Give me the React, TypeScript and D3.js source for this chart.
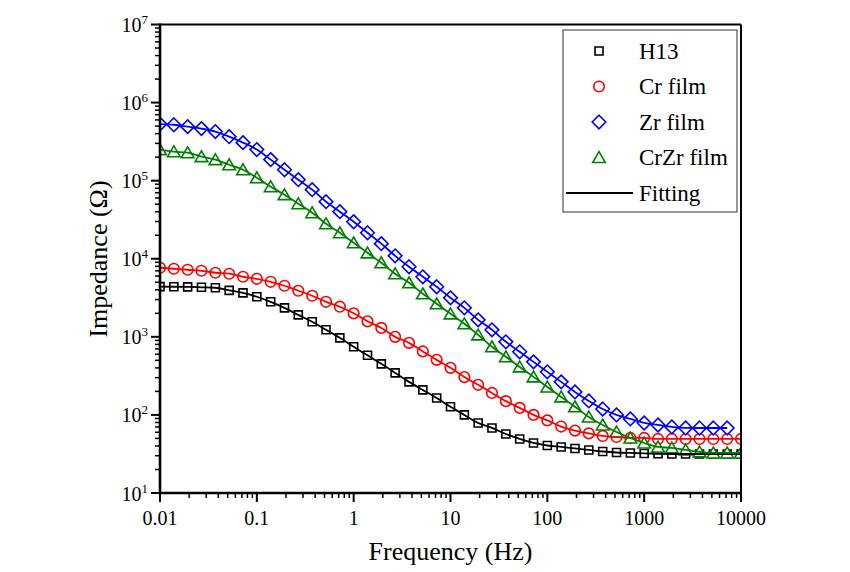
import React from 'react';
import * as d3 from 'd3';

// Frequencies (Hz), 7 points per decade
const frequency = [
  0.01, 0.0139, 0.0193, 0.0268, 0.0373, 0.0518, 0.072,
  0.1, 0.139, 0.193, 0.268, 0.373, 0.518, 0.72,
  1, 1.39, 1.93, 2.68, 3.73, 5.18, 7.2,
  10, 13.9, 19.3, 26.8, 37.3, 51.8, 72,
  100, 139, 193, 268, 373, 518, 720,
  1000, 1390, 1930, 2680, 3730, 5180, 7200,
  10000,
];

const h13 = [
  4400, 4380, 4360, 4310, 4250, 3940, 3660, 3260, 2810, 2350, 1910, 1560, 1230, 971,
  745, 580, 451, 345, 265, 209, 165, 127, 100, 78.9, 68.1, 57.0, 49.2, 43.7,
  40.6, 38.9, 37.2, 35.6, 34.0, 33.0, 32.6, 32.1, 31.8, 31.6, 31.6, 31.6, 31.6, 31.6, 31.6,
];

const crFilm = [
  7670, 7450, 7230, 7020, 6620, 6430, 5880, 5540, 5070, 4510, 3890, 3360, 2810, 2430,
  2000, 1580, 1300, 1000, 837, 650, 507, 401, 305, 243, 191, 150, 123, 100,
  85, 71, 63, 58, 53.8, 52.2, 50.7, 50.7, 49.2, 49.2, 49.2, 49.2, 49.2, 49.2, 49.2,
];

const zrFilm = [
  530000, 520000, 492000, 464000, 425000, 366000, 307000, 250000, 186000, 138000, 103000, 76700, 53800, 40100,
  29800, 21500, 15600, 10900, 7890, 5870, 4380, 3160, 2350, 1650, 1230, 863, 643, 478,
  356, 265, 197, 151, 119, 100, 88.9, 78.9, 74.4, 70.2, 68.1, 68, 68, 68,
];

const crZrFilm = [
  250000, 235000, 228000, 203000, 186000, 160000, 138000, 109000, 83700, 66200, 50700, 38900, 28100, 21500,
  16000, 11900, 8890, 6430, 4920, 3560, 2650, 1970, 1470, 1060, 745, 555, 412, 307,
  228, 170, 127, 94.2, 74.4, 60.5, 50.7, 43.7, 38.9, 37.8, 35.6, 33.6, 32.6, 32.6, 32.6,
];

const seriesNames = ['H13', 'Cr film', 'Zr film', 'CrZr film'];
const fitName = 'Fitting';
const xTickValues = [0.01, 0.1, 1, 10, 100, 1000, 10000];
const xTickLabels = ['0.01', '0.1', '1', '10', '100', '1000', '10000'];
const yTickExponents = [1, 2, 3, 4, 5, 6, 7];
const xTitle = 'Frequency (Hz)';
const yTitle = 'Impedance (Ω)';

const FONT = "'Liberation Serif', 'Times New Roman', Tinos, 'DejaVu Serif', serif";

type Shape = 'square' | 'circle' | 'diamond' | 'triangle';

function markerPath(shape: Shape, cx: number, cy: number): string {
  switch (shape) {
    case 'square':
      return `M${cx - 4},${cy - 4}h8v8h-8Z`;
    case 'circle': {
      const r = 5.3;
      return `M${cx - r},${cy}a${r},${r} 0 1,0 ${2 * r},0a${r},${r} 0 1,0 ${-2 * r},0Z`;
    }
    case 'diamond':
      return `M${cx},${cy - 6.8}L${cx + 6.8},${cy}L${cx},${cy + 6.8}L${cx - 6.8},${cy}Z`;
    case 'triangle':
      return `M${cx},${cy - 5.8}L${cx + 6.3},${cy + 5}L${cx - 6.3},${cy + 5}Z`;
  }
}

export default function App() {
  const W = 850;
  const H = 572;
  const left = 160;
  const right = 741;
  const top = 24.5;
  const bottom = 493;

  const x = d3.scaleLog().domain([0.01, 10000]).range([left, right]);
  const y = d3.scaleLog().domain([10, 1e7]).range([bottom, top]);

  const series = [
    { name: seriesNames[0], values: h13, color: '#000000', shape: 'square' as Shape },
    { name: seriesNames[1], values: crFilm, color: '#ff0000', shape: 'circle' as Shape },
    { name: seriesNames[2], values: zrFilm, color: '#0000ff', shape: 'diamond' as Shape },
    { name: seriesNames[3], values: crZrFilm, color: '#008000', shape: 'triangle' as Shape },
  ];

  const line = d3
    .line<[number, number]>()
    .x((d) => x(d[0]))
    .y((d) => y(d[1]))
    .curve(d3.curveMonotoneX);

  const xMinor: number[] = [];
  for (let e = -2; e < 4; e++) {
    for (let m = 2; m <= 9; m++) xMinor.push(m * Math.pow(10, e));
  }
  const yMinor: number[] = [];
  for (let e = 1; e < 7; e++) {
    for (let m = 2; m <= 9; m++) yMinor.push(m * Math.pow(10, e));
  }

  const legendX = 563;
  const legendY = 30;
  const legendW = 174;
  const legendH = 182;
  const legendRowY = [51, 86.5, 122, 157.5, 193];
  const symX = 599;
  const textX = 639;
  const textStyle = { fontFamily: FONT };

  return (
    <svg
      width={W}
      height={H}
      viewBox={`0 0 ${W} ${H}`}
      style={{ position: 'absolute', left: 0, top: 0, background: '#fff', fontFamily: FONT }}
    >
      <defs>
        <clipPath id="plotClip">
          <rect x={left} y={top} width={right - left} height={bottom - top} />
        </clipPath>
      </defs>
      <rect x={0} y={0} width={W} height={H} fill="#fff" />

      <g clipPath="url(#plotClip)">
        {series.map((s) => (
          <g key={s.name}>
            {s.values.map((v, i) => (
              <path
                key={i}
                d={markerPath(s.shape, x(frequency[i]), y(v))}
                fill="#fff"
                stroke={s.color}
                strokeWidth={1.6}
              />
            ))}
          </g>
        ))}
        {series.map((s) => (
          <path
            key={s.name + '-fit'}
            d={line(s.values.map((v, i) => [frequency[i], v] as [number, number])) || ''}
            fill="none"
            stroke={s.color}
            strokeWidth={1.8}
          />
        ))}
      </g>

      <line x1={left} x2={right} y1={top} y2={top} stroke="#000" strokeWidth={2} />
      <line x1={right} x2={right} y1={top} y2={bottom} stroke="#000" strokeWidth={2} />
      <line x1={left} x2={left} y1={top - 1} y2={bottom + 1} stroke="#000" strokeWidth={2.6} />
      <line x1={left - 1} x2={right + 1} y1={bottom} y2={bottom} stroke="#000" strokeWidth={2.6} />

      {xTickValues.map((t, i) => (
        <g key={'xt' + i}>
          <line x1={x(t)} x2={x(t)} y1={bottom} y2={bottom + 9} stroke="#000" strokeWidth={2} />
          <text x={x(t)} y={525} textAnchor="middle" fontSize={20} fill="#000" style={textStyle}>
            {xTickLabels[i]}
          </text>
        </g>
      ))}
      {xMinor.map((t, i) => (
        <line key={'xm' + i} x1={x(t)} x2={x(t)} y1={bottom} y2={bottom + 5} stroke="#000" strokeWidth={1.5} />
      ))}

      {yTickExponents.map((e) => {
        const yy = y(Math.pow(10, e));
        return (
          <g key={'yt' + e}>
            <line x1={left - 9} x2={left} y1={yy} y2={yy} stroke="#000" strokeWidth={2} />
            <text x={148} y={yy + 7.5} textAnchor="end" fontSize={20} fill="#000" style={textStyle}>
              <tspan>10</tspan>
              <tspan dy={-8} fontSize={13}>
                {e}
              </tspan>
            </text>
          </g>
        );
      })}
      {yMinor.map((t, i) => (
        <line key={'ym' + i} x1={left - 5} x2={left} y1={y(t)} y2={y(t)} stroke="#000" strokeWidth={1.5} />
      ))}

      <text x={(left + right) / 2} y={560} textAnchor="middle" fontSize={26} fill="#000" style={textStyle}>
        {xTitle}
      </text>
      <text
        transform={`translate(107, 259) rotate(-90)`}
        textAnchor="middle"
        fontSize={26}
        fill="#000"
        style={textStyle}
      >
        {yTitle}
      </text>

      <rect x={legendX} y={legendY} width={legendW} height={legendH} fill="#fff" stroke="#333" strokeWidth={1} />
      {series.map((s, i) => (
        <g key={'lg' + i}>
          <path d={markerPath(s.shape, symX, legendRowY[i])} fill="#fff" stroke={s.color} strokeWidth={1.6} />
          <text x={textX} y={legendRowY[i] + 7.5} fontSize={23} fill="#000" style={textStyle}>
            {s.name}
          </text>
        </g>
      ))}
      <line x1={566} x2={633} y1={legendRowY[4]} y2={legendRowY[4]} stroke="#000" strokeWidth={2} />
      <text x={textX} y={legendRowY[4] + 7.5} fontSize={23} fill="#000" style={textStyle}>
        {fitName}
      </text>
    </svg>
  );
}
